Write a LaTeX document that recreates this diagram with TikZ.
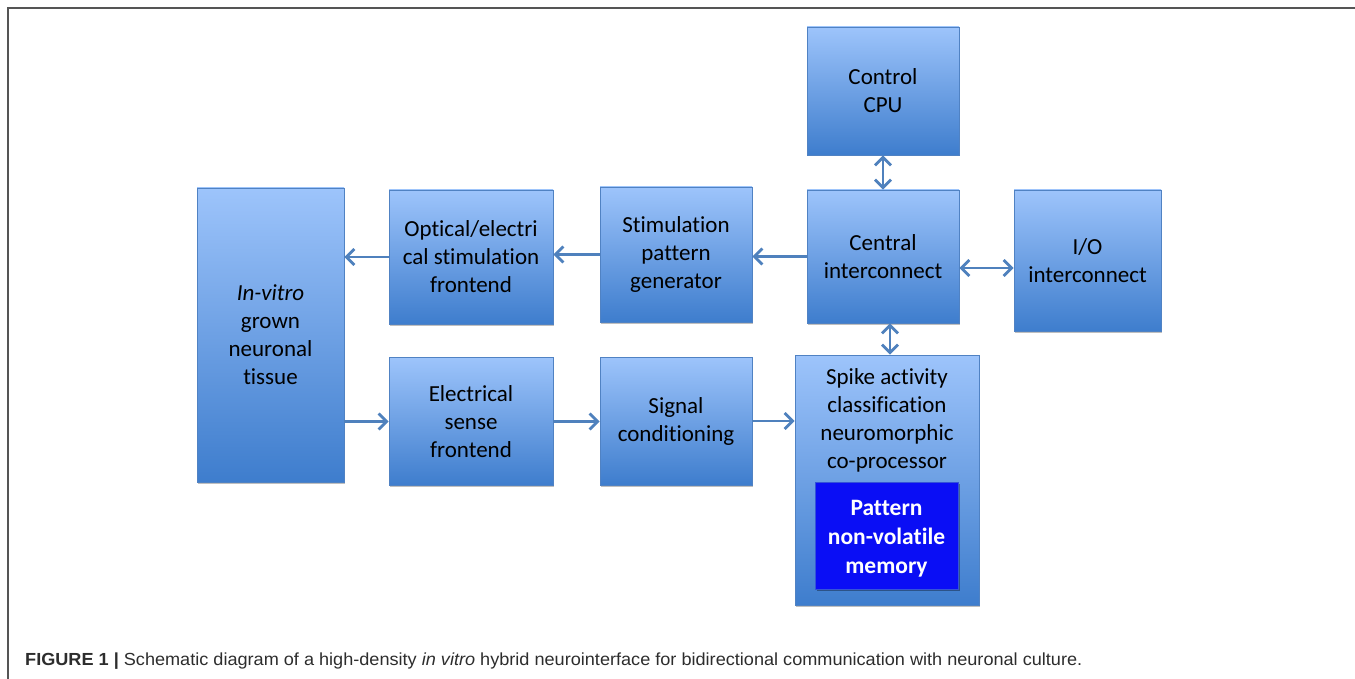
\documentclass[tikz,border=0pt]{standalone}
\usepackage{fontspec}
\setmainfont[RawFeature=-liga]{Carlito}
\newfontfamily\capfont{Liberation Sans}
\usetikzlibrary{arrows.meta,shadows}
\definecolor{boxtop}{RGB}{157,196,251}
\definecolor{boxbot}{RGB}{62,125,205}
\definecolor{boxline}{RGB}{80,130,195}
\definecolor{arrcol}{RGB}{79,129,189}
\definecolor{membg}{RGB}{10,14,245}
\definecolor{capcol}{RGB}{45,45,45}
\definecolor{framecol}{RGB}{85,85,85}
\tikzset{
  blk/.style={rectangle, draw=boxline, line width=0.9pt, top color=boxtop, bottom color=boxbot,
    inner sep=0pt, align=center, font=\fontsize{23}{28}\selectfont,
    drop shadow={shadow xshift=1.2pt, shadow yshift=-1.5pt, opacity=0.25, fill=black}},
  memblk/.style={rectangle, draw=boxline!60!membg, line width=0.9pt, fill=membg,
    inner sep=0pt,
    drop shadow={shadow xshift=1.5pt, shadow yshift=-2pt, opacity=0.35, fill=black}},
  memlbl/.style={inner sep=0pt, align=center, text=white, font=\fontsize{23.5}{29}\selectfont\bfseries},
  lbl/.style={inner sep=0pt, align=center, font=\fontsize{23}{28}\selectfont},
  arr/.style={draw=arrcol, line width=2.8pt, -{Straight Barb[length=8pt,width=16pt,line width=2.8pt]}},
  darr/.style={draw=arrcol, line width=2.8pt, {Straight Barb[length=8pt,width=16pt,line width=2.8pt]}-{Straight Barb[length=8pt,width=16pt,line width=2.8pt]}},
}
\begin{document}
\begin{tikzpicture}[x=1pt,y=-1pt]
\useasboundingbox (0,0) rectangle (1355,679);
\draw[framecol, line width=2pt] (8,679) -- (8,8) -- (1355,8);

\node[blk, minimum width=152pt, minimum height=128pt] (ctrl) at (883,91) {Control\\CPU};
\node[blk, minimum width=152pt, minimum height=133pt] (central) at (883,256.5) {Central\\interconnect};
\node[blk, minimum width=147pt, minimum height=141pt] (io) at (1087.5,260.5) {I/O\\interconnect};
\node[blk, minimum width=184pt, minimum height=250pt] (spike) at (887,480) {};
\node[lbl] (spiketext) at (887,420) {Spike activity\\classification\\neuromorphic\\co-processor};
\node[memblk, minimum width=143pt, minimum height=107pt] (mem) at (886.5,535.5) {};
\node[memlbl] (memtext) at (886.5,539) {Pattern\\non-volatile\\memory};
\node[blk, minimum width=147pt, minimum height=294pt] (invitro) at (270.5,335) {\textit{In-vitro}\\grown\\neuronal\\tissue};
\node[blk, minimum width=164pt, minimum height=134pt] (optical) at (471,257) {Optical/electri\\cal stimulation\\frontend};
\node[blk, minimum width=164pt, minimum height=128pt] (esense) at (471,421.5) {Electrical\\sense\\frontend};
\node[blk, minimum width=152pt, minimum height=135pt] (stim) at (676,254.5) {Stimulation\\pattern\\generator};
\node[blk, minimum width=152pt, minimum height=128pt] (signal) at (676,421) {Signal\\conditioning};

\coordinate (ioy) at (0,268);
\coordinate (csx) at (890,0);

\draw[arr] (central.west) -- (central.west -| stim.east);
\draw[arr] (stim.west) -- (stim.west -| optical.east);
\draw[arr] (optical.west) -- (optical.west -| invitro.east);
\draw[arr] (esense.west -| invitro.east) -- (esense.west);
\draw[arr] (esense.east) -- (esense.east -| signal.west);
\draw[arr] (signal.east) -- (signal.east -| spike.west);
\draw[darr] (ctrl.south) -- (central.north);
\draw[darr] (central.east |- ioy) -- (io.west |- ioy);
\draw[darr] (csx |- central.south) -- (csx |- spike.north);

\node[anchor=base west, inner sep=0pt, text=capcol] (caption) at (25,665)
  {\resizebox{1057pt}{\height}{\capfont\fontsize{17.5}{20}\selectfont\textbf{FIGURE 1 |} Schematic diagram of a high-density \textit{in vitro} hybrid neurointerface for bidirectional communication with neuronal culture.}};
\end{tikzpicture}
\end{document}
